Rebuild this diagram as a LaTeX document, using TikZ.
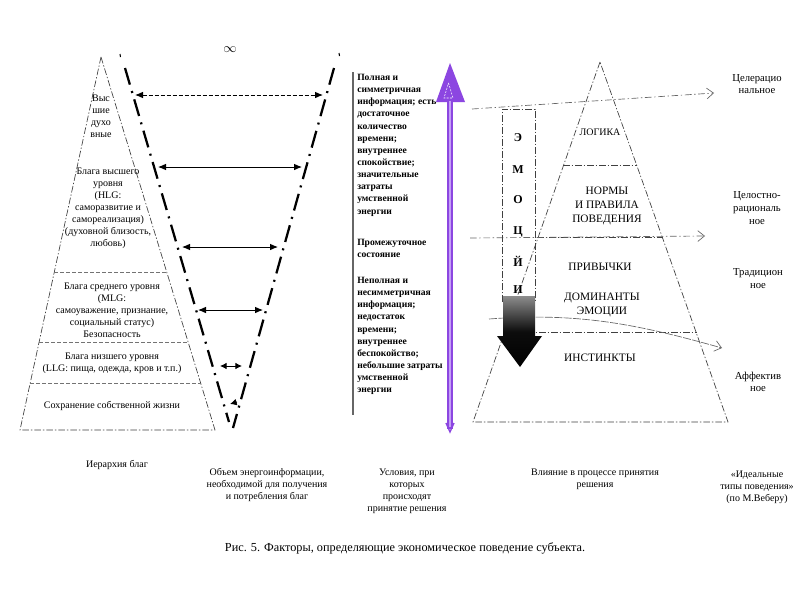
\documentclass[tikz,border=0pt]{standalone}
\usepackage{fontspec}
\setmainfont{Liberation Serif}
\usetikzlibrary{arrows.meta}
\definecolor{purp}{RGB}{140,70,225}
\definecolor{lpurp}{RGB}{195,160,245}
\begin{document}
\begin{tikzpicture}[x=0.75pt,y=-0.75pt,
  pyr/.style={draw=black!75, line width=0.5pt, dash pattern=on 5pt off 1.5pt on 1pt off 1.5pt},
  hl/.style={draw=black!55, line width=0.5pt, dash pattern=on 3pt off 1.5pt},
  vline/.style={draw=black, line width=1.7pt, dash pattern=on 13pt off 5pt on 1.5pt off 5pt},
  guide/.style={draw=black!60, line width=0.5pt, dash pattern=on 5pt off 2pt on 1pt off 2pt, -{Straight Barb[length=5pt,width=8pt]}},
  dbl/.style={draw=black, line width=0.7pt, {Latex[length=6pt,width=5pt]}-{Latex[length=6pt,width=5pt]}},
  lbl/.style={font=\fontsize{7.5}{9}\selectfont, align=center, inner sep=0pt},
  col/.style={font=\fontsize{7.2}{9.1}\selectfont\bfseries, align=left, anchor=north west, inner sep=0pt},
  rp/.style={font=\fontsize{8.5}{10.5}\selectfont, align=center, inner sep=0pt},
  rl/.style={font=\fontsize{8}{9.5}\selectfont, align=center, inner sep=0pt},
  emo/.style={font=\fontsize{9}{9}\selectfont\bfseries, inner sep=0pt}]
\useasboundingbox (0,0) rectangle (800,600);
\fill[white] (0,0) rectangle (800,600);

% ---------- left pyramid ----------
\coordinate (LA) at (101,57);
\coordinate (LB) at (20,430);
\coordinate (LC) at (215,430);
\draw[pyr] (LA) -- (LB) -- (LC) -- cycle;
\draw[hl] (54,272) -- (167,272);
\draw[hl] (39,342) -- (188,342);
\draw[hl] (30,383) -- (201,383);

\node[lbl] (t1) at (101,116.5) {Выс\\шие\\духо\\вные};
\node[lbl] (t2) at (108,208) {Блага высшего\\уровня\\(HLG:\\саморазвитие и\\самореализация)\\(духовной близость,\\любовь)};
\node[lbl] (t3) at (112,310.5) {Блага среднего уровня\\(MLG:\\самоуважение, признание,\\социальный статус)\\Безопасность};
\node[lbl] (t4) at (112,363.5) {Блага низшего уровня\\(LLG: пища, одежда, кров и т.п.)};
\node[lbl] (t5) at (112,406) {Сохранение собственной жизни};

% ---------- inverted triangle ----------
\node[font=\fontsize{10}{10}\selectfont, inner sep=0pt] (inf) at (230,50) {$\infty$};
\coordinate (VL1) at (125,68);
\coordinate (VL2) at (229,422);
\coordinate (VR1) at (334,68);
\coordinate (VR2) at (233,428);
\draw[vline] (VL1) -- (VL2);
\draw[vline] (VR1) -- (VR2);
\draw[line width=0.8pt] (120,54) -- (120.5,57);
\draw[line width=0.8pt] (339,53) -- (339.5,56);

\coordinate (a1l) at (135,95);  \coordinate (a1r) at (323,95);
\coordinate (a2l) at (158,167); \coordinate (a2r) at (302,167);
\coordinate (a3l) at (182,247); \coordinate (a3r) at (278,247);
\coordinate (a4l) at (198,310); \coordinate (a4r) at (263,310);
\coordinate (a5l) at (220,366); \coordinate (a5r) at (242,366);
\draw[dbl, dash pattern=on 3pt off 1.5pt] (a1l) -- (a1r);
\draw[dbl] (a2l) -- (a2r);
\draw[dbl] (a3l) -- (a3r);
\draw[dbl] (a4l) -- (a4r);
\draw[dbl, {Latex[length=5pt,width=5pt]}-{Latex[length=5pt,width=5pt]}] (a5l) -- (a5r);
\coordinate (a6s) at (237,402); \coordinate (a6e) at (230,404);
\draw[line width=0.7pt, -{Latex[length=5pt,width=5pt]}] (a6s) -- (a6e);

% ---------- conditions column ----------
\draw[black!60, line width=0.8pt] (353,72) -- (353,415);
\node[col] (c1) at (357,74) {Полная и\\симметричная\\информация; есть\\достаточное\\количество\\времени;\\внутреннее\\спокойствие;\\значительные\\затраты\\умственной\\энергии};
\node[col] (c2) at (357,239) {Промежуточное\\состояние};
\node[col] (c3) at (357,277) {Неполная и\\несимметричная\\информация;\\недостаток\\времени;\\внутреннее\\беспокойство;\\небольшие затраты\\умственной\\энергии};

% ---------- purple arrow ----------
\coordinate (PT) at (450,63);
\coordinate (PB) at (450,432);
\fill[purp] (PT) -- (465,102) -- (436,102) -- cycle;
\draw[white, line width=0.4pt, dash pattern=on 1.5pt off 1pt] (448.5,83) -- (453,98) -- (444,98) -- cycle;
\fill[purp] (447,101) rectangle (453,429);
\fill[lpurp] (449,101) rectangle (451,427);
\draw[purp, line width=1pt] (446,423) -- (PB) -- (454,423);

% ---------- right pyramid ----------
\coordinate (RA) at (600,62);
\coordinate (RB) at (473,422);
\coordinate (RC) at (728,422);
\draw[pyr] (RA) -- (RB) -- (RC) -- cycle;
\draw[pyr] (563,165) -- (637,165);
\draw[pyr] (537,237) -- (663,237);
\draw[pyr] (503,332) -- (697,332);

% guide arrows to ideal types
\coordinate (g1s) at (472,109); \coordinate (g1e) at (714,93);
\coordinate (g2s) at (470,238); \coordinate (g2e) at (705,236);
\coordinate (g3s) at (489,319); \coordinate (g3e) at (722,348);
\draw[guide] (g1s) -- (g1e);
\draw[guide] (g2s) -- (g2e);
\draw[guide, dash pattern=on 6pt off 1pt] (g3s) .. controls (580,312) and (640,325) .. (g3e);

% emotion box and black arrow
\draw[pyr] (502,302) -- (502,109) -- (535,109) -- (535,302);
\node[emo] (e1) at (518,138) {Э};
\node[emo] (e2) at (518,170) {М};
\node[emo] (e3) at (518,200) {О};
\node[emo] (e4) at (518,232) {Ц};
\node[emo] (e5) at (518,261) {Й};
\node[emo] (e6) at (518,290) {И};
\shade[top color=black!45, bottom color=black, middle color=black!95]
  (503,296) -- (535,296) -- (535,336) -- (542,336) -- (520,367) -- (497,336) -- (503,336) -- cycle;

\node[rp, font=\fontsize{7.5}{9}\selectfont] (r1) at (600,132) {ЛОГИКА};
\node[rp] (r2) at (607,206) {НОРМЫ\\И ПРАВИЛА\\ПОВЕДЕНИЯ};
\node[rp] (r3) at (600,267) {ПРИВЫЧКИ};
\node[rp] (r4) at (602,305) {ДОМИНАНТЫ\\ЭМОЦИИ};
\node[rp] (r5) at (600,358) {ИНСТИНКТЫ};

% ---------- ideal types ----------
\node[rl] (i1) at (757,84) {Целерацио\\нальное};
\node[rl] (i2) at (757,208) {Целостно-\\рациональ\\ное};
\node[rl] (i3) at (758,278.5) {Традицион\\ное};
\node[rl] (i4) at (758,382) {Аффектив\\ное};

% ---------- captions ----------
\node[lbl] (b1) at (117,465) {Иерархия благ};
\node[lbl] (b2) at (267,485) {Объем энергоинформации,\\необходимой для получения\\и потребления благ};
\node[lbl] (b3) at (407,491) {Условия, при\\которых\\происходят\\принятие решения};
\node[lbl] (b4) at (595,479) {Влияние в процессе принятия\\решения};
\node[lbl] (b5) at (757,487.5) {«Идеальные\\типы поведения»\\(по М.Веберу)};
\node[font=\fontsize{9.2}{11}\selectfont, inner sep=0pt] (fig) at (405,548) {Рис. 5. Факторы, определяющие экономическое поведение субъекта.};
\end{tikzpicture}
\end{document}
